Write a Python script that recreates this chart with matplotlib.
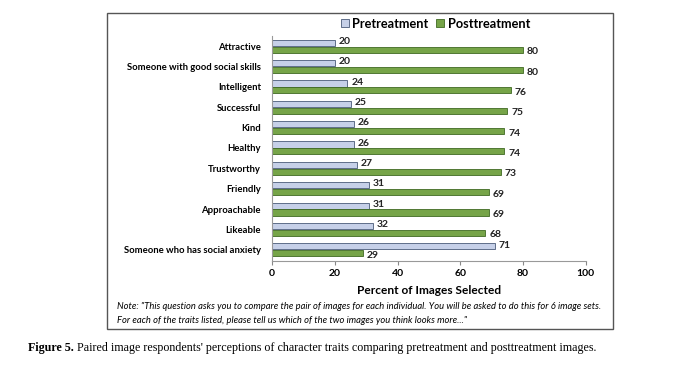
import numpy as np
import matplotlib.pyplot as plt
from matplotlib.patches import Rectangle

traits = ["Attractive", "Someone with good social skills", "Intelligent", "Successful",
          "Kind", "Healthy", "Trustworthy", "Friendly", "Approachable", "Likeable",
          "Someone who has social anxiety"]
pre = [20, 20, 24, 25, 26, 26, 27, 31, 31, 32, 71]
post = [80, 80, 76, 75, 74, 74, 73, 69, 69, 68, 29]
xticks = [0, 20, 40, 60, 80, 100]

plt.rcParams['font.family'] = ['Lato', 'DejaVu Sans']

fig = plt.figure(figsize=(6.82, 3.68), dpi=100)
ax = fig.add_axes([0.399, 0.291, 0.46, 0.611])

y = np.arange(len(traits))
h = 0.3
ax.barh(y - h / 2 - 0.02, pre, height=h, color='#c6d0e8', edgecolor='#4a5a78', linewidth=0.6,
        label='Pretreatment')
ax.barh(y + h / 2 + 0.02, post, height=h, color='#76a448', edgecolor='#3f6a22', linewidth=0.6,
        label='Posttreatment')

for i in range(len(traits)):
    ax.text(pre[i] + 1.2, y[i] - h / 2 - 0.08, str(pre[i]), va='center', ha='left',
            fontsize=7.5, fontweight='bold', color='#222222')
    ax.text(post[i] + 1.2, y[i] + h / 2 + 0.12, str(post[i]), va='center', ha='left',
            fontsize=7.5, fontweight='bold', color='#222222')

ax.set_xlim(0, 100)
ax.set_ylim(len(traits) - 0.45, -0.5)
ax.set_xticks(xticks)
ax.set_xticklabels([str(t) for t in xticks], fontsize=7.5, fontweight='bold')
ax.set_yticks(y)
ax.set_yticklabels(traits, fontsize=6.8, fontweight='bold')
ax.tick_params(axis='y', length=0, pad=8)
ax.tick_params(axis='x', length=3, color='#888888', pad=3)
for s in ['top', 'right']:
    ax.spines[s].set_visible(False)
for s in ['left', 'bottom']:
    ax.spines[s].set_color('#999999')
    ax.spines[s].set_linewidth(0.8)

ax.set_xlabel('Percent of Images Selected', fontsize=8.6, fontweight='bold', labelpad=5)

leg = ax.legend(loc='lower center', bbox_to_anchor=(0.52, 1.0), ncol=2, frameon=False,
                handlelength=0.65, handleheight=0.65, handletextpad=0.25,
                columnspacing=0.6, borderaxespad=0.1, prop={'weight': 'bold', 'size': 9.2})

fig.text(0.172, 0.166, '''Note: "This question asks you to compare the pair of images for each individual. You will be asked to do this for 6 image sets.''',
         fontsize=6.75, style='italic', va='center')
fig.text(0.172, 0.13, '''For each of the traits listed, please tell us which of the two images you think looks more..."''',
         fontsize=6.75, style='italic', va='center')

fig.patches.append(Rectangle((107 / 682, 1 - 329 / 368), (613 - 107) / 682, (329 - 13) / 368,
                             transform=fig.transFigure, fill=False, edgecolor='#555555',
                             linewidth=1.0))

fig.text(0.041, 0.054, 'Figure 5.', fontsize=8.65, fontweight='bold', family='Liberation Serif',
         va='center')
fig.text(0.113, 0.054, "Paired image respondents' perceptions of character traits comparing "
         "pretreatment and posttreatment images.", fontsize=8.65, family='Liberation Serif',
         va='center')

fig.savefig('out.png', dpi=100)
